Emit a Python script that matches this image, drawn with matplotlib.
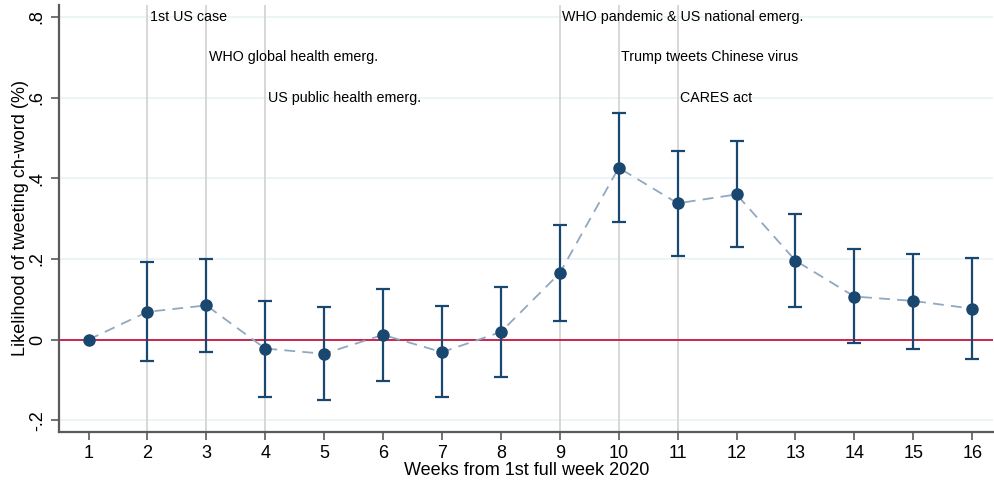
import matplotlib.pyplot as plt
import numpy as np

plt.rcParams["font.family"] = ["Liberation Sans", "DejaVu Sans"]

weeks = list(range(1, 17))
coef = [0.0, 0.069, 0.085, -0.022, -0.035, 0.012, -0.031, 0.019,
        0.165, 0.426, 0.338, 0.360, 0.196, 0.107, 0.096, 0.077]
ci_hi = [0.0, 0.192, 0.201, 0.097, 0.080, 0.126, 0.083, 0.131,
         0.284, 0.562, 0.468, 0.492, 0.312, 0.224, 0.213, 0.202]
ci_lo = [0.0, -0.053, -0.031, -0.141, -0.149, -0.102, -0.143, -0.093,
         0.046, 0.292, 0.207, 0.230, 0.081, -0.007, -0.022, -0.049]

event_weeks = [2, 3, 4, 9, 10, 11]
event_labels = ["1st US case", "WHO global health emerg.", "US public health emerg.",
                "WHO pandemic & US national emerg.", "Trump tweets Chinese virus", "CARES act"]
event_y = [0.8, 0.7, 0.6, 0.8, 0.7, 0.6]

yticks = [-0.2, 0, 0.2, 0.4, 0.6, 0.8]
ytick_labels = ["-.2", "0", ".2", ".4", ".6", ".8"]

navy = "#1a476f"

fig = plt.figure(figsize=(9.94, 4.82), dpi=100)
ax = fig.add_axes([0.0594, 0.1044, 0.94, 0.8853])

for y in yticks:
    ax.axhline(y, color="#eaf2f3", lw=1.2, zorder=0)
for w in event_weeks:
    ax.axvline(w, color="#d4d4d4", lw=1.3, zorder=1)
ax.axhline(0, color="#c8143c", lw=1.3, zorder=2)

x = np.array(weeks)
c = np.array(coef)
lo = np.array(ci_lo)
hi = np.array(ci_hi)
ax.plot(x, c, ls=(0, (6, 4)), color="#90a8c0", lw=1.3, zorder=3)
eb = x > 1
ax.errorbar(x[eb], c[eb], yerr=[c[eb] - lo[eb], hi[eb] - c[eb]], fmt="none",
            ecolor=navy, elinewidth=1.6, capsize=5, capthick=1.6, zorder=4)
ax.plot(x, c, "o", color=navy, ms=8, zorder=5)

for w, lab, y in zip(event_weeks, event_labels, event_y):
    ax.text(w + 0.04, y, lab, ha="left", va="center", fontsize=10.3)

ax.set_xlim(0.5, 16.36)
ax.set_ylim(-0.228, 0.8295)
ax.set_xticks(weeks)
ax.set_xticklabels([str(w) for w in weeks], fontsize=13)
ax.set_yticks(yticks)
ax.set_yticklabels(ytick_labels, fontsize=13, rotation=90, va="center")
ax.set_xlabel("Weeks from 1st full week 2020", fontsize=13, labelpad=0)
ax.set_ylabel("Likelihood of tweeting ch-word (%)", fontsize=13, labelpad=0)

for s in ["top", "right"]:
    ax.spines[s].set_visible(False)
for s in ["left", "bottom"]:
    ax.spines[s].set_color("#5a5a5a")
    ax.spines[s].set_linewidth(1.6)
ax.tick_params(color="#5a5a5a", width=1.2, length=6)

fig.savefig("out.png", dpi=100)
